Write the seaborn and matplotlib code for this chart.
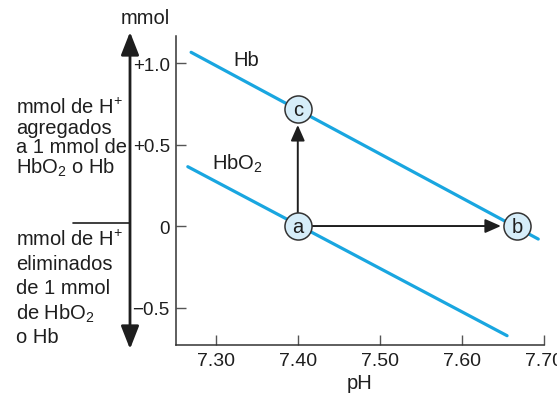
import pandas as pd
import seaborn as sns
import matplotlib.pyplot as plt
from matplotlib.patches import FancyArrowPatch
from matplotlib.lines import Line2D

# axis ticks
ph_ticks = [7.30, 7.40, 7.50, 7.60, 7.70]
ph_tick_labels = ["7.30", "7.40", "7.50", "7.60", "7.70"]
mmol_ticks = [1.0, 0.5, 0.0, -0.5]
mmol_tick_labels = ["+1.0", "+0.5", "0", "\u22120.5"]

# titration lines
hb_ph = [7.270, 7.693]
hb_mmol = [1.066, -0.080]
hbo2_ph = [7.266, 7.655]
hbo2_mmol = [0.364, -0.673]

# marked states
point_names = ["a", "b", "c"]
point_ph = [7.40, 7.667, 7.40]
point_mmol = [0.0, 0.0, 0.718]

upper_note = ["mmol de H$^{+}$", "agregados", "a 1 mmol de", "HbO$_{2}$ o Hb"]
lower_note = ["mmol de H$^{+}$", "eliminados", "de 1 mmol", "de HbO$_{2}$", "o Hb"]

BLUE = "#19a6e0"
FILL = "#d6edf9"
INK = "#1e1e1e"
FS = 14.5
W, H = 557, 402

sns.set_theme(style="ticks")
plt.rcParams["font.family"] = ["Liberation Sans", "DejaVu Sans"]
plt.rcParams["mathtext.default"] = "regular"

fig = plt.figure(figsize=(W / 100, H / 100), dpi=100)
ax = fig.add_axes([176 / W, 1 - 345.5 / H, (544 - 176) / W, (345.5 - 37) / H])

lines = pd.DataFrame({
    "pH": hb_ph + hbo2_ph,
    "mmol": hb_mmol + hbo2_mmol,
    "curve": ["Hb"] * len(hb_ph) + ["HbO2"] * len(hbo2_ph),
})
sns.lineplot(data=lines, x="pH", y="mmol", units="curve", estimator=None,
             sort=False, color=BLUE, lw=2.3, ax=ax, zorder=2)

pts = pd.DataFrame({"pH": point_ph, "mmol": point_mmol, "name": point_names})
sns.scatterplot(data=pts, x="pH", y="mmol", s=380, color=FILL,
                edgecolor="#333333", linewidth=1.1, ax=ax, zorder=5)
for _, r in pts.iterrows():
    ax.text(r["pH"], r["mmol"], r["name"], ha="center", va="center",
            fontsize=FS, color=INK, zorder=6)

# shifts a -> c and a -> b
for target in ["c", "b"]:
    t = pts[pts["name"] == target].iloc[0]
    ax.annotate("", xy=(t["pH"], t["mmol"]), xytext=(point_ph[0], point_mmol[0]),
                arrowprops=dict(arrowstyle="-|>,head_length=0.95,head_width=0.42",
                                mutation_scale=10, color=INK, lw=1.4,
                                shrinkA=9.5, shrinkB=11.5),
                zorder=3)

ax.text(7.321, 1.02, "Hb", ha="left", va="center", fontsize=FS, color=INK)
ax.text(7.295, 0.39, "HbO$_{2}$", ha="left", va="center", fontsize=FS, color=INK)

ax.set_xlim(7.2516, 7.70)
ax.set_ylim(-0.727, 1.166)
ax.set_xticks(ph_ticks, ph_tick_labels)
ax.set_yticks(mmol_ticks, mmol_tick_labels)
ax.set_xlabel("pH", fontsize=FS, color=INK, labelpad=3)
ax.set_ylabel("")
ax.spines[["top", "right"]].set_visible(False)
for s in ["left", "bottom"]:
    ax.spines[s].set_color("#333333")
    ax.spines[s].set_linewidth(1.1)
ax.tick_params(direction="in", length=7, width=1, color="#555555",
               labelcolor=INK)
ax.tick_params(axis="x", labelsize=14, pad=5.5)
ax.tick_params(axis="y", labelsize=13.5, pad=4.5)

# left-hand explanatory scale
fig.add_artist(FancyArrowPatch((130 / W, 1 - 350 / H), (130 / W, 1 - 33 / H),
                               transform=fig.transFigure,
                               arrowstyle="<|-|>,head_length=1.4,head_width=0.55",
                               mutation_scale=10, color=INK, lw=2,
                               shrinkA=0, shrinkB=0))
fig.add_artist(Line2D([73 / W, 129 / W], [1 - 224 / H] * 2,
                      transform=fig.transFigure, color=INK, lw=1.2))
fig.text(145 / W, 1 - 19 / H, "mmol", ha="center", va="center",
         fontsize=FS, color=INK)
for i, txt in enumerate(upper_note):
    fig.text(16 / W, 1 - (108 + 20 * i) / H, txt, ha="left", va="center",
             fontsize=FS, color=INK)
for i, txt in enumerate(lower_note):
    fig.text(16 / W, 1 - (240 + 24.5 * i) / H, txt, ha="left", va="center",
             fontsize=FS, color=INK)

fig.savefig("out.png", dpi=100)
